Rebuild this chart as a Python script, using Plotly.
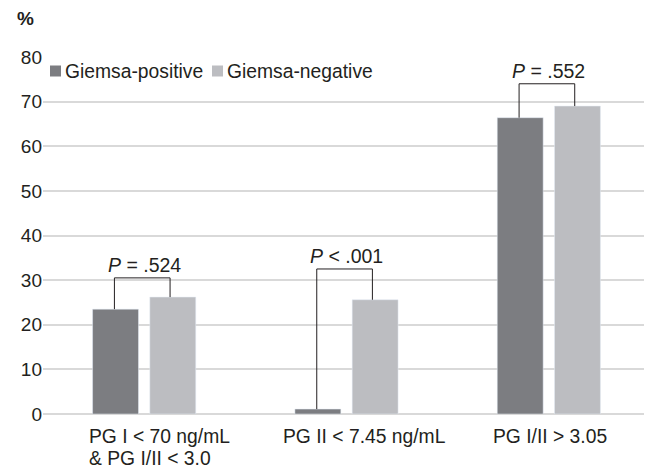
import plotly.graph_objects as go

categories = ["PG I < 70 ng/mL<br>& PG I/II < 3.0", "PG II < 7.45 ng/mL", "PG I/II > 3.05"]
series_names = ["Giemsa-positive", "Giemsa-negative"]
giemsa_positive = [23.5, 1.1, 66.4]
giemsa_negative = [26.2, 25.6, 69.0]
p_labels = ["<i>P</i> = .524", "<i>P</i> < .001", "<i>P</i> = .552"]
bracket_tops = [30.5, 32.5, 74.0]
y_ticks = [0, 10, 20, 30, 40, 50, 60, 70, 80]

DARK = "#7c7d81"
LIGHT = "#bcbdc1"
FONT = "Liberation Sans, Arial, sans-serif"
TXT = "#231f20"

# page body has an 8px default margin; figure occupies the rest of the window
OX, OY = 8, 8
W, H = 652 - OX, 470 - OY
ML, MR, MT, MB = 43 - OX, 2, 57 - OY, 56
PW, PH = W - ML - MR, H - MT - MB


def px(x):
    return (x - OX - ML) / PW


def py(y):
    return (H - MB - (y - OY)) / PH


BAR_W = 0.227
OFF_L = -0.255
OFF_R = 0.028
cL = -0.147
cR = 0.128

# category label placement (anchor, horizontal shift in px)
label_style = [("left", -57), ("center", 18), ("center", 1)]
LINE_H = 22

xs = list(range(len(categories)))

fig = go.Figure()
fig.add_trace(go.Bar(x=xs, y=giemsa_positive, name=series_names[0], marker_color=DARK,
                     width=BAR_W, offset=OFF_L, showlegend=False))
fig.add_trace(go.Bar(x=xs, y=giemsa_negative, name=series_names[1], marker_color=LIGHT,
                     width=BAR_W, offset=OFF_R, showlegend=False))

for i in xs:
    fig.add_trace(go.Scatter(
        x=[i + cL, i + cL, i + cR, i + cR],
        y=[giemsa_positive[i], bracket_tops[i], bracket_tops[i], giemsa_negative[i]],
        mode="lines", line=dict(color="#231f20", width=1), showlegend=False, hoverinfo="skip"))
    fig.add_annotation(x=i, y=bracket_tops[i], text=p_labels[i], showarrow=False,
                       yanchor="bottom", yshift=0, font=dict(size=19.5, color=TXT, family=FONT))
    anchor, dx = label_style[i]
    for k, line in enumerate(categories[i].split("<br>")):
        fig.add_annotation(x=i, xref="x", y=0, yref="paper", text=line, showarrow=False,
                           xanchor=anchor, yanchor="top", xshift=dx, yshift=-10 - LINE_H * k,
                           font=dict(size=19.3, color=TXT, family=FONT))

# "%" axis unit label
fig.add_annotation(xref="paper", yref="paper", x=px(15), y=py(19), text="<b>%</b>",
                   showarrow=False, xanchor="left", yanchor="middle",
                   font=dict(size=19, color=TXT, family=FONT))

# legend (square swatch + label)
legend_items = [(series_names[0], DARK, 50), (series_names[1], LIGHT, 212)]
for name, col, x0 in legend_items:
    fig.add_shape(type="rect", xref="paper", yref="paper",
                  x0=px(x0), x1=px(x0 + 11), y0=py(76.5), y1=py(65.5),
                  fillcolor=col, line=dict(width=0))
    fig.add_annotation(xref="paper", yref="paper", x=px(x0 + 13), y=py(71.5), text=name,
                       showarrow=False, xanchor="left", yanchor="middle",
                       font=dict(size=19.3, color=TXT, family=FONT))

fig.update_layout(
    width=W, height=H,
    margin=dict(l=ML, r=MR, t=MT, b=MB),
    plot_bgcolor="white", paper_bgcolor="white",
    font=dict(family=FONT, size=18, color=TXT),
    barmode="overlay",
    showlegend=False,
    xaxis=dict(range=[-0.5, 2.5], tickmode="array", tickvals=xs, showticklabels=False,
               showgrid=False, zeroline=False, showline=False, ticks="", automargin=False),
    yaxis=dict(range=[0, 80], tickmode="array", tickvals=y_ticks, showgrid=True,
               gridcolor="#d9d9d9", gridwidth=1.5, zeroline=True, zerolinecolor="#d9d9d9",
               zerolinewidth=1.5, showline=False, ticks="", automargin=False,
               tickfont=dict(size=19, color=TXT, family=FONT)),
)

fig.write_html("out.html")
